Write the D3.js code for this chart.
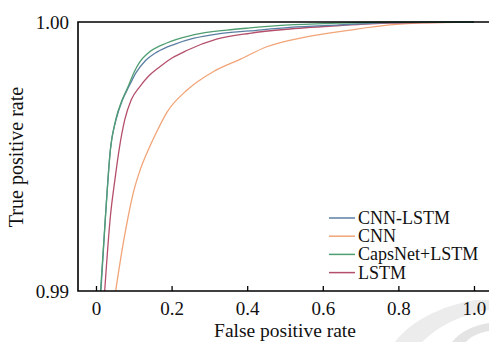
<!DOCTYPE html>
<html>
<head>
<meta charset="utf-8">
<script src="https://cdn.jsdelivr.net/npm/d3@7"></script>
<style>
  body { margin: 0; background: #fff; }
  #graphicContainer { width: 489px; height: 342px; }
  svg text { font-family: 'Liberation Serif', 'Times New Roman', serif; fill: #111; }
</style>
</head>
<body>
<div id="graphicContainer"></div>
<script>

// series names + colours
var seriesNames = ["CNN-LSTM", "CNN", "CapsNet+LSTM", "LSTM"]
var seriesColors = ["#5b7fa3", "#f2a477", "#4f9e72", "#b44f6b"]

// ROC points: false positive rate / true positive rate
var cnnLstmFpr = [0.013, 0.025, 0.038, 0.053, 0.070, 0.087, 0.106, 0.130, 0.161, 0.209, 0.257, 0.328, 0.407, 0.513, 0.646, 0.778, 1.0]
var cnnLstmTpr = [0.9900, 0.99276, 0.99524, 0.99636, 0.99710, 0.99760, 0.99812, 0.99855, 0.99888, 0.99918, 0.99939, 0.99957, 0.99967, 0.99980, 0.99989, 0.99998, 1.0]

var cnnFpr = [0.052, 0.069, 0.085, 0.100, 0.118, 0.140, 0.160, 0.188, 0.241, 0.310, 0.381, 0.452, 0.557, 0.672, 0.778, 0.865, 1.0]
var cnnTpr = [0.9900, 0.99152, 0.99276, 0.99372, 0.99455, 0.99530, 0.99590, 0.99665, 0.99747, 0.99815, 0.99861, 0.99908, 0.99945, 0.99970, 0.99989, 0.99997, 1.0]

var capsFpr = [0.012, 0.025, 0.038, 0.052, 0.069, 0.085, 0.101, 0.116, 0.135, 0.187, 0.257, 0.346, 0.407, 0.513, 0.646, 0.751, 1.0]
var capsTpr = [0.9900, 0.99276, 0.99524, 0.99636, 0.99710, 0.99760, 0.99814, 0.99852, 0.99881, 0.99922, 0.99952, 0.99970, 0.99978, 0.99989, 0.99996, 0.99999, 1.0]

var lstmFpr = [0.023, 0.038, 0.050, 0.061, 0.076, 0.093, 0.116, 0.140, 0.169, 0.201, 0.240, 0.319, 0.407, 0.513, 0.646, 0.778, 1.0]
var lstmTpr = [0.9900, 0.99276, 0.99413, 0.99524, 0.99636, 0.99710, 0.99760, 0.99800, 0.99834, 0.99866, 0.99894, 0.99936, 0.99958, 0.99974, 0.99987, 0.99996, 1.0]

var xTicks = [0, 0.2, 0.4, 0.6, 0.8, 1.0]
var xTickLabels = ["0", "0.2", "0.4", "0.6", "0.8", "1.0"]
var yTicks = [0.99, 1.00]

var serif = "'Liberation Serif', 'Times New Roman', serif"

function init() {

	var width = 489
	var height = 342
	var margin = {top: 22, right: 0, bottom: 51, left: 78}

	var svg = d3.select("#graphicContainer").append("svg")
				.attr("width", width)
				.attr("height", height)

	// faint grey watermark swirl bottom right
	var wm = svg.append("g").attr("opacity", 0.22)
	wm.append("path").attr("d", "M395,342 C410,322 440,306 475,300 L489,300 L489,310 C462,314 438,326 422,342 Z").attr("fill", "#aaa")
	wm.append("path").attr("d", "M452,342 C460,332 474,325 489,323 L489,331 C478,333 470,337 466,342 Z").attr("fill", "#888")

	var x = d3.scaleLinear()
		.domain([-0.0476, 1.0503])
		.range([margin.left, 493])

	var y = d3.scaleLinear()
		.domain([0.99, 1.00])
		.range([height - margin.bottom, margin.top])

	var series = [
		{name: seriesNames[0], color: seriesColors[0], fpr: cnnLstmFpr, tpr: cnnLstmTpr},
		{name: seriesNames[1], color: seriesColors[1], fpr: cnnFpr, tpr: cnnTpr},
		{name: seriesNames[2], color: seriesColors[2], fpr: capsFpr, tpr: capsTpr},
		{name: seriesNames[3], color: seriesColors[3], fpr: lstmFpr, tpr: lstmTpr}
	]

	var line = d3.line()
		.x(d => x(d[0]))
		.y(d => y(d[1]))
		.curve(d3.curveMonotoneX)

	var plot = svg.append("g")

	// draw order: CNN under, then LSTM, CNN-LSTM, CapsNet on top
	var order = [1, 3, 0, 2]
	order.forEach(function(i) {
		var s = series[i]
		plot.append("path")
			.datum(s.fpr.map((f, j) => [f, s.tpr[j]]))
			.attr("fill", "none")
			.attr("stroke", s.color)
			.attr("stroke-width", 1.3)
			.attr("d", line)
	})

	// frame: left, top, bottom
	var x0 = margin.left, x1 = width, yTop = y(1.0), yBot = y(0.99)
	svg.append("path")
		.attr("d", "M" + x1 + "," + yTop + "H" + x0 + "V" + yBot + "H" + x1)
		.attr("fill", "none")
		.attr("stroke", "#000")
		.attr("stroke-width", 1.6)

	// x axis ticks pointing inward
	var xAxis = svg.append("g")
		.attr("transform", "translate(0," + yBot + ")")
		.call(d3.axisBottom(x).tickValues(xTicks).tickSizeInner(-5).tickSizeOuter(0).tickPadding(11)
			.tickFormat((d, i) => xTickLabels[i]))
	xAxis.attr("font-family", null).attr("font-size", null)
	xAxis.select(".domain").remove()
	xAxis.selectAll("line").attr("stroke", "#000").attr("stroke-width", 1.3)
	xAxis.selectAll("text").style("font-family", serif).style("font-size", "19px").attr("fill", "#111")

	var yAxis = svg.append("g")
		.attr("transform", "translate(" + x0 + ",0)")
		.call(d3.axisLeft(y).tickValues(yTicks).tickSize(0).tickPadding(9).tickFormat(d3.format(".2f")))
	yAxis.attr("font-family", null).attr("font-size", null)
	yAxis.select(".domain").remove()
	yAxis.selectAll("text").style("font-family", serif).style("font-size", "19px").attr("fill", "#111")

	// axis titles
	svg.append("text")
		.attr("x", 285)
		.attr("y", 337)
		.attr("text-anchor", "middle")
		.style("font-family", serif)
		.style("font-size", "19.5px")
		.text("False positive rate")

	svg.append("text")
		.attr("transform", "translate(23,157) rotate(-90)")
		.attr("text-anchor", "middle")
		.style("font-family", serif)
		.style("font-size", "20px")
		.text("True positive rate")

	// legend
	var legend = svg.append("g").attr("transform", "translate(329,218)")
	series.forEach(function(s, i) {
		var g = legend.append("g").attr("transform", "translate(0," + (i * 18.2) + ")")
		g.append("line")
			.attr("x1", 0).attr("x2", 26)
			.attr("stroke", s.color)
			.attr("stroke-width", 1.5)
		g.append("text")
			.attr("x", 29)
			.attr("y", 6)
			.style("font-family", serif)
			.style("font-size", "18px")
			.text(s.name)
	})
}

init()
</script>
</body>
</html>
